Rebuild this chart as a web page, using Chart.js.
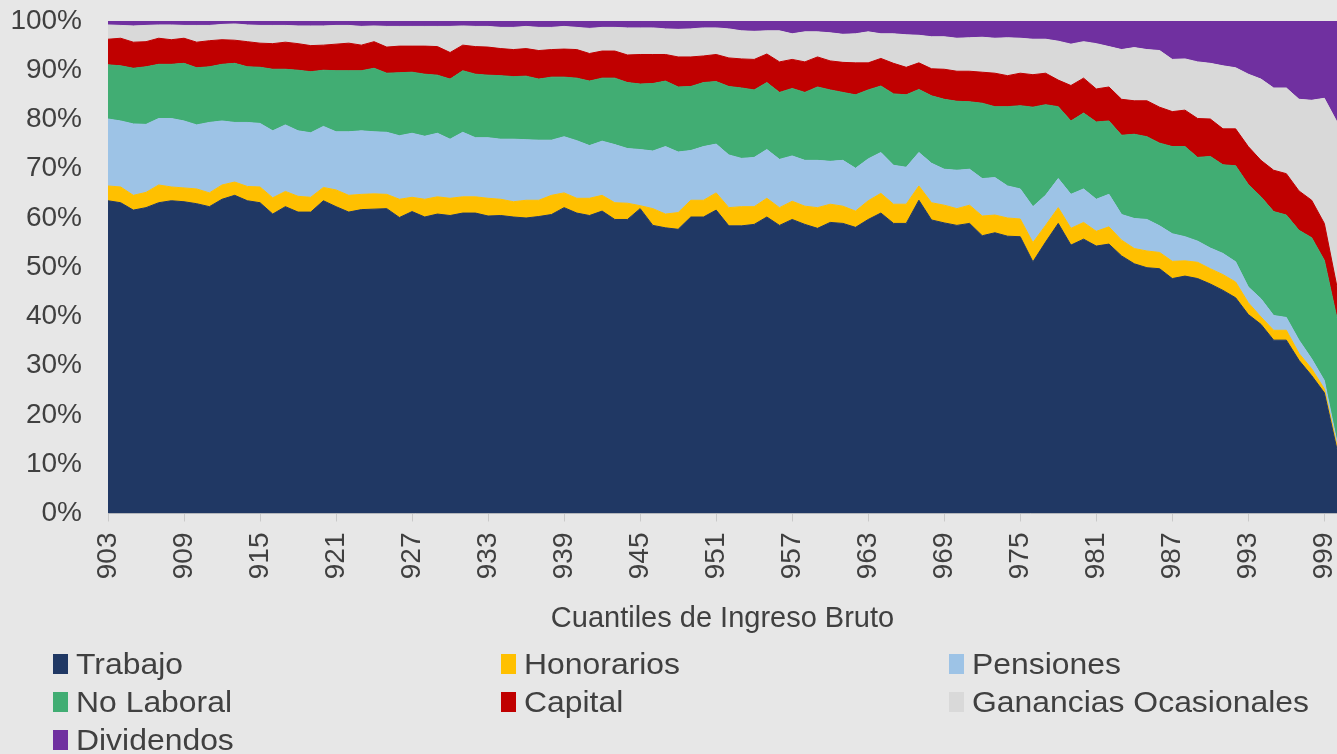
<!DOCTYPE html>
<html>
<head>
<meta charset="utf-8">
<script src="https://cdn.jsdelivr.net/npm/chart.js@4.4.1/dist/chart.umd.min.js"></script>
<style>
    html, body { margin: 0; padding: 0; background: #e7e7e7; }
    #wrap { position: relative; width: 1337px; height: 754px; overflow: hidden; }
    #grafico { position: absolute; left: 0; top: 0; }
    .ley { position: absolute; height: 30px; }
    .ley .caja { position: absolute; left: 0; top: 5px; width: 15px; height: 20px; }
    .ley .txt {
        position: absolute; left: 23px; top: 0; line-height: 30px; white-space: nowrap;
        font-family: 'Liberation Sans', Arial, sans-serif; font-size: 29px; color: #404040;
        transform: scaleX(1.1); transform-origin: left center;
    }
</style>
</head>
<body>
<div id="wrap">
    <canvas id="grafico" width="1337" height="754"></canvas>
    <div id="leyenda"></div>
</div>
<script>
// Cuantiles de ingreso bruto (eje x)
var cuantiles = [
    903, 904, 905, 906, 907, 908, 909, 910, 911, 912,
    913, 914, 915, 916, 917, 918, 919, 920, 921, 922,
    923, 924, 925, 926, 927, 928, 929, 930, 931, 932,
    933, 934, 935, 936, 937, 938, 939, 940, 941, 942,
    943, 944, 945, 946, 947, 948, 949, 950, 951, 952,
    953, 954, 955, 956, 957, 958, 959, 960, 961, 962,
    963, 964, 965, 966, 967, 968, 969, 970, 971, 972,
    973, 974, 975, 976, 977, 978, 979, 980, 981, 982,
    983, 984, 985, 986, 987, 988, 989, 990, 991, 992,
    993, 994, 995, 996, 997, 998, 999, 1000
];

var etiquetasEje = ['903', '909', '915', '921', '927', '933', '939', '945', '951', '957',
    '963', '969', '975', '981', '987', '993', '999'];
var etiquetasY = ['0%', '10%', '20%', '30%', '40%', '50%', '60%', '70%', '80%', '90%', '100%'];

// participacion acumulada (%) hasta el borde superior de cada fuente
var hastaTrabajo = [
    63.5, 63.1, 61.6, 62.1, 63.1, 63.5, 63.3, 62.9, 62.3, 63.8,
    64.6, 63.5, 63.1, 60.8, 62.3, 61.2, 61.2, 63.5, 62.3, 61.2,
    61.7, 61.8, 61.9, 60.1, 61.3, 60.2, 60.8, 60.5, 61.0, 61.0,
    60.4, 60.5, 60.2, 60.0, 60.3, 60.7, 62.1, 61.0, 60.5, 61.4,
    59.7, 59.7, 61.9, 58.5, 58.0, 57.7, 60.2, 60.2, 61.6, 58.4,
    58.4, 58.7, 60.2, 58.5, 59.7, 58.7, 57.9, 59.1, 58.9, 58.1,
    59.7, 61.0, 58.9, 58.9, 63.6, 59.6, 59.0, 58.5, 58.9, 56.4,
    57.0, 56.3, 56.2, 51.1, 55.1, 58.9, 54.5, 55.7, 54.3, 54.7,
    52.3, 50.7, 49.9, 49.7, 47.7, 48.2, 47.7, 46.6, 45.3, 43.8,
    40.4, 38.4, 35.2, 35.2, 31.1, 28.0, 24.5, 13.0
];
var hastaHonorarios = [
    66.5, 66.3, 64.6, 65.2, 66.7, 66.3, 66.1, 65.9, 65.1, 66.7,
    67.3, 66.4, 66.3, 64.1, 65.4, 64.4, 64.2, 66.2, 65.7, 64.6,
    64.8, 64.9, 64.8, 63.8, 64.2, 63.8, 64.3, 64.0, 64.3, 64.3,
    64.0, 63.8, 63.3, 63.6, 63.6, 64.6, 65.1, 64.0, 64.0, 64.6,
    63.1, 63.0, 62.5, 61.9, 60.8, 61.1, 63.6, 63.6, 65.1, 62.1,
    62.3, 62.3, 64.0, 62.1, 63.4, 62.4, 62.1, 62.8, 62.4, 61.4,
    63.5, 65.0, 62.8, 62.8, 66.5, 63.1, 62.6, 61.9, 62.6, 60.4,
    60.6, 60.0, 59.8, 55.0, 58.5, 62.1, 57.9, 59.1, 57.3, 58.2,
    55.5, 53.8, 53.3, 53.0, 51.2, 51.3, 51.0, 49.7, 48.5, 47.0,
    42.8, 39.9, 37.2, 37.2, 32.5, 29.4, 25.3, 13.7
];
var hastaPensiones = [
    80.1, 79.7, 79.1, 79.0, 80.2, 80.2, 79.7, 78.9, 79.4, 79.7,
    79.4, 79.4, 79.2, 77.7, 78.9, 77.7, 77.3, 78.6, 77.5, 77.5,
    77.7, 77.5, 77.4, 76.7, 77.2, 76.6, 77.2, 76.0, 77.4, 76.3,
    76.3, 76.0, 76.0, 75.9, 75.8, 75.8, 76.5, 75.7, 74.7, 75.6,
    74.9, 74.1, 73.9, 73.6, 74.5, 73.4, 73.7, 74.5, 75.0, 72.8,
    72.1, 72.3, 73.9, 71.9, 72.6, 71.7, 71.7, 71.5, 71.7, 70.1,
    72.0, 73.3, 70.7, 70.3, 73.3, 71.1, 69.9, 69.7, 69.9, 68.0,
    68.2, 66.5, 65.9, 62.3, 64.6, 68.0, 64.8, 65.9, 63.8, 64.8,
    60.7, 59.9, 59.7, 58.4, 56.8, 56.2, 55.3, 53.9, 52.8, 51.1,
    46.0, 43.6, 40.2, 39.8, 35.2, 31.4, 27.0, 14.5
];
var hastaNoLaboral = [
    91.1, 90.9, 90.4, 90.7, 91.2, 91.2, 91.4, 90.5, 90.7, 91.2,
    91.4, 90.7, 90.6, 90.2, 90.2, 90.0, 89.7, 90.0, 89.9, 89.9,
    89.9, 90.4, 89.4, 89.5, 89.6, 89.2, 89.0, 88.2, 89.9, 89.2,
    89.0, 88.9, 88.7, 88.8, 88.2, 88.6, 88.6, 88.4, 87.8, 88.4,
    88.4, 87.5, 87.2, 87.3, 87.8, 86.6, 86.7, 87.5, 87.7, 86.7,
    86.4, 86.0, 87.5, 85.5, 86.3, 85.5, 86.6, 86.0, 85.5, 85.0,
    86.0, 86.8, 85.2, 85.0, 86.1, 84.8, 84.1, 83.7, 83.6, 83.3,
    82.6, 82.6, 82.8, 82.5, 83.0, 82.6, 79.7, 81.3, 79.5, 79.7,
    76.8, 77.0, 76.5, 75.2, 74.5, 74.5, 72.3, 72.5, 70.8, 70.6,
    66.8, 64.3, 61.3, 60.6, 57.5, 56.0, 51.4, 39.6
];
var hastaCapital = [
    96.3, 96.5, 95.7, 95.8, 96.5, 96.2, 96.5, 95.7, 96.0, 96.2,
    96.1, 95.8, 95.5, 95.4, 95.7, 95.4, 95.0, 95.1, 95.3, 95.5,
    95.1, 95.8, 94.7, 94.9, 94.9, 94.9, 94.8, 93.6, 95.1, 94.8,
    94.7, 94.4, 94.2, 94.4, 94.0, 94.2, 94.3, 94.2, 93.4, 93.9,
    93.9, 93.1, 93.2, 93.2, 93.2, 92.7, 92.7, 92.9, 93.2, 92.5,
    92.3, 92.2, 93.3, 91.7, 92.2, 91.7, 92.7, 91.9, 91.6, 91.5,
    91.5, 92.4, 91.4, 90.6, 91.5, 90.3, 90.2, 89.8, 89.8, 89.6,
    89.4, 88.9, 89.4, 89.1, 89.4, 88.0, 86.9, 88.4, 86.2, 86.6,
    84.1, 83.8, 83.8, 82.5, 81.6, 81.9, 80.2, 80.1, 78.1, 78.1,
    74.5, 71.7, 69.7, 69.0, 65.5, 63.6, 58.9, 46.0
];
var hastaGanancias = [
    99.2, 99.1, 99.0, 99.1, 99.2, 99.2, 99.1, 99.1, 99.1, 99.3,
    99.4, 99.2, 99.1, 99.1, 99.1, 99.0, 99.0, 99.0, 99.1, 99.1,
    98.9, 99.0, 98.9, 98.9, 98.9, 98.9, 98.9, 98.9, 99.0, 98.9,
    98.9, 98.7, 98.7, 98.9, 98.7, 98.7, 98.9, 98.7, 98.5, 98.7,
    98.7, 98.6, 98.6, 98.6, 98.4, 98.3, 98.4, 98.6, 98.6, 98.4,
    98.0, 97.9, 98.0, 98.0, 97.4, 97.8, 97.8, 97.6, 97.3, 97.4,
    97.8, 97.4, 97.4, 97.2, 97.1, 96.8, 96.8, 96.5, 96.6, 96.7,
    96.5, 96.6, 96.5, 96.3, 96.3, 95.9, 95.3, 95.8, 95.4, 94.8,
    94.2, 94.6, 94.2, 94.0, 92.2, 92.3, 91.7, 91.4, 90.9, 90.5,
    89.2, 88.2, 86.4, 86.4, 84.1, 83.9, 84.3, 79.5
];
var hastaDividendos = [
    100, 100, 100, 100, 100, 100, 100, 100, 100, 100,
    100, 100, 100, 100, 100, 100, 100, 100, 100, 100,
    100, 100, 100, 100, 100, 100, 100, 100, 100, 100,
    100, 100, 100, 100, 100, 100, 100, 100, 100, 100,
    100, 100, 100, 100, 100, 100, 100, 100, 100, 100,
    100, 100, 100, 100, 100, 100, 100, 100, 100, 100,
    100, 100, 100, 100, 100, 100, 100, 100, 100, 100,
    100, 100, 100, 100, 100, 100, 100, 100, 100, 100,
    100, 100, 100, 100, 100, 100, 100, 100, 100, 100,
    100, 100, 100, 100, 100, 100, 100, 100
];

var series = [
    { nombre: 'Trabajo', datos: hastaTrabajo, color: '#203864' },
    { nombre: 'Honorarios', datos: hastaHonorarios, color: '#ffc000' },
    { nombre: 'Pensiones', datos: hastaPensiones, color: '#9dc3e6' },
    { nombre: 'No Laboral', datos: hastaNoLaboral, color: '#41ad73' },
    { nombre: 'Capital', datos: hastaCapital, color: '#c00000' },
    { nombre: 'Ganancias Ocasionales', datos: hastaGanancias, color: '#d9d9d9' },
    { nombre: 'Dividendos', datos: hastaDividendos, color: '#7030a0' }
];

var fuente = "'Liberation Sans', Arial, sans-serif";
var gris = '#404040';

var datasets = series.map(function (s, i) {
    return {
        label: s.nombre,
        data: s.datos,
        backgroundColor: s.color,
        borderColor: s.color,
        borderWidth: 1,
        pointRadius: 0,
        tension: 0,
        fill: i === 0 ? 'origin' : '-1'
    };
});

new Chart(document.getElementById('grafico'), {
    type: 'line',
    data: {
        labels: cuantiles.map(String),
        datasets: datasets
    },
    options: {
        responsive: false,
        animation: false,
        devicePixelRatio: 1,
        layout: { padding: { top: 21, right: 0, bottom: 118, left: 0 } },
        plugins: {
            legend: { display: false },
            tooltip: { enabled: false }
        },
        scales: {
            x: {
                offset: false,
                grid: {
                    drawOnChartArea: false,
                    drawTicks: true,
                    tickLength: 8,
                    lineWidth: 1,
                    color: function (ctx) {
                        var t = ctx.tick;
                        return t && etiquetasEje.indexOf(t.label) >= 0 ? '#c9c9c9' : 'rgba(0,0,0,0)';
                    }
                },
                border: { display: true, color: '#c9c9c9', width: 1 },
                ticks: {
                    autoSkip: false,
                    minRotation: 90,
                    maxRotation: 90,
                    padding: 11,
                    color: gris,
                    font: { family: fuente, size: 28 },
                    callback: function (value) {
                        var lab = this.getLabelForValue(value);
                        return etiquetasEje.indexOf(lab) >= 0 ? lab : '';
                    }
                },
                title: {
                    display: true,
                    text: 'Cuantiles de Ingreso Bruto',
                    color: gris,
                    font: { family: fuente, size: 29 },
                    padding: { top: 11, bottom: 0 }
                },
                afterFit: function (scale) {
                    scale.paddingLeft = 0;
                    scale.paddingRight = 0;
                }
            },
            y: {
                min: 0,
                max: 100,
                grid: { display: false, drawTicks: false },
                border: { display: false },
                ticks: {
                    stepSize: 10,
                    padding: 26,
                    color: gris,
                    font: { family: fuente, size: 28 },
                    callback: function (value) {
                        return etiquetasY[Math.round(value / 10)];
                    }
                },
                afterFit: function (scale) {
                    scale.width = 108;
                    scale.paddingTop = 0;
                    scale.paddingBottom = 0;
                }
            }
        }
    }
});

// leyenda en tres columnas, como en el original
var leyenda = document.getElementById('leyenda');
var colX = [53, 501, 949];
var filaY = [649, 687, 725];
series.forEach(function (s, i) {
    var item = document.createElement('div');
    item.className = 'ley';
    item.style.left = colX[i % 3] + 'px';
    item.style.top = filaY[Math.floor(i / 3)] + 'px';
    item.innerHTML = '<span class="caja" style="background:' + s.color + '"></span>' +
        '<span class="txt">' + s.nombre + '</span>';
    leyenda.appendChild(item);
});
</script>
</body>
</html>
